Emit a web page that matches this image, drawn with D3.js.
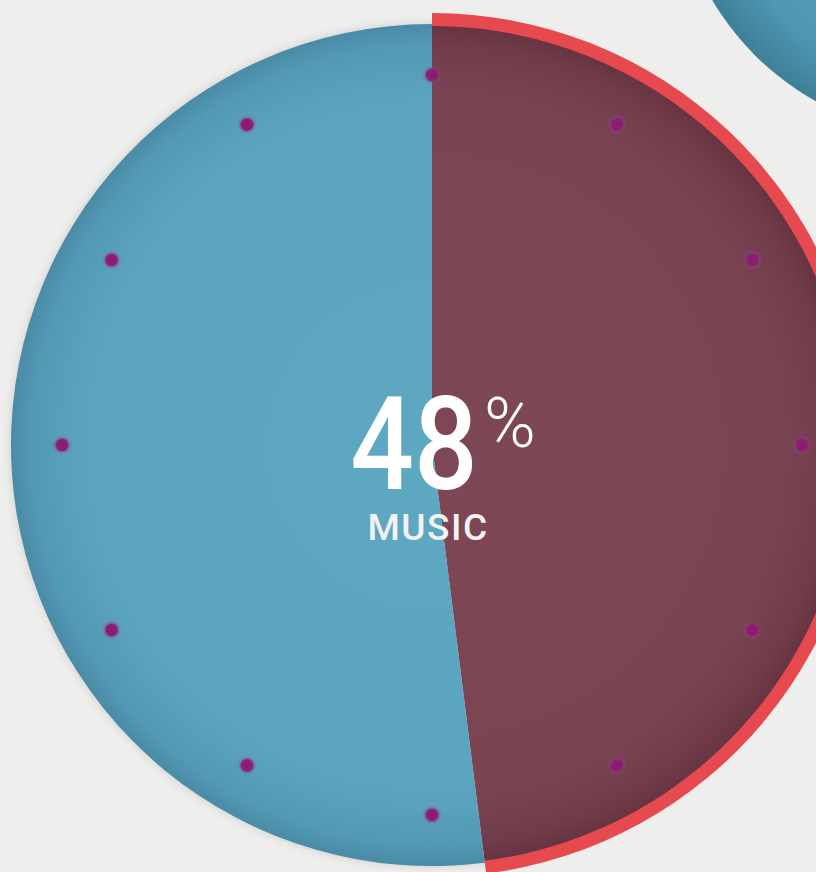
<!DOCTYPE html>
<html><head><meta charset="utf-8">
<script src="https://cdn.jsdelivr.net/npm/d3@7"></script>
<style>html,body{margin:0;padding:0;background:#efefee;overflow:hidden}</style>
</head><body>
<script>
const categories = ["MUSIC", "OTHER"];
const values = [48, 52];
const tickCount = 12;
const headline = "48";
const headlineUnit = "%";

const W = 816, H = 872;
const cx = 432, cy = 445, R = 421;
const svg = d3.select("body").append("svg").attr("width", W).attr("height", H);
const defs = svg.append("defs");

function radialUser(id, r, stops) {
  const g = defs.append("radialGradient").attr("id", id).attr("gradientUnits", "userSpaceOnUse")
    .attr("cx", 0).attr("cy", 0).attr("r", r);
  stops.forEach(s => g.append("stop").attr("offset", s[0]).attr("stop-color", s[1]));
}
function radial(id, stops) {
  const g = defs.append("radialGradient").attr("id", id).attr("cx", "50%").attr("cy", "50%").attr("r", "50%");
  stops.forEach(s => g.append("stop").attr("offset", s[0]).attr("stop-color", s[1]));
}
radialUser("gBlue", R, [["0%", "#5ea8c2"], ["82%", "#5ba4bf"], ["95%", "#5399b4"], ["100%", "#4a8ba6"]]);
radialUser("gRed", R, [["0%", "#7e4756"], ["82%", "#7b4453"], ["95%", "#713c4a"], ["100%", "#663341"]]);
radial("gCorner", [["0%", "#5aa6c0"], ["82%", "#4f97b2"], ["100%", "#3f7f98"]]);
radial("gDot", [["0%", "#8a1a72"], ["55%", "#8c1f72"], ["75%", "rgba(150,60,140,0.3)"], ["100%", "rgba(150,80,150,0)"]]);

const noise = defs.append("filter").attr("id", "noise").attr("x", 0).attr("y", 0).attr("width", "100%").attr("height", "100%");
noise.append("feTurbulence").attr("type", "fractalNoise").attr("baseFrequency", 0.9).attr("numOctaves", 2).attr("result", "t");
noise.append("feColorMatrix").attr("type", "matrix").attr("values", "0 0 0 0 0.6  0 0 0 0 0.6  0 0 0 0 0.6  0 0 0 0.06 0");

const shadow = defs.append("filter").attr("id", "sh").attr("x", "-10%").attr("y", "-10%").attr("width", "120%").attr("height", "120%");
shadow.append("feGaussianBlur").attr("stdDeviation", 4);

svg.append("rect").attr("width", W).attr("height", H).attr("fill", "#efefee");
svg.append("rect").attr("width", W).attr("height", H).attr("filter", "url(#noise)");

// corner circle (neighbouring chart)
svg.append("circle").attr("cx", 950).attr("cy", -140).attr("r", 276).attr("fill", "url(#gCorner)");

const g = svg.append("g").attr("transform", `translate(${cx},${cy})`);

const pie = d3.pie().sort(null).value(d => d);
const arcs = pie(values);
const arc = d3.arc().innerRadius(0).outerRadius(R);
const rim = d3.arc().innerRadius(R - 2).outerRadius(R + 11);

g.append("circle").attr("r", R + 1).attr("fill", "rgba(0,0,0,0.12)").attr("filter", "url(#sh)");
const fills = ["url(#gRed)", "url(#gBlue)"];
g.selectAll("path.slice").data(arcs).join("path").attr("class", "slice")
  .attr("d", arc).attr("fill", (d, i) => fills[i]);
g.append("path").datum(arcs[0]).attr("d", rim).attr("fill", "#e64a4f");

// tick dots
const angle = d3.scaleLinear().domain([0, tickCount]).range([0, 2 * Math.PI]);
const dotR = 370;
g.selectAll("circle.dot").data(d3.range(tickCount)).join("circle").attr("class", "dot")
  .attr("cx", i => dotR * Math.sin(angle(i)))
  .attr("cy", i => -dotR * Math.cos(angle(i)))
  .attr("r", 10).attr("fill", "url(#gDot)");

// labels
g.append("text").attr("transform", "translate(-18,44) scale(1,1.16)").attr("text-anchor", "middle")
  .attr("fill", "#ffffff").attr("font-family", "Roboto, 'DejaVu Sans', sans-serif")
  .attr("font-size", 112).attr("font-weight", 500).text(headline);
g.append("text").attr("x", 52).attr("y", 2).attr("fill", "#ffffff")
  .attr("font-family", "Roboto, sans-serif").attr("font-weight", 300).attr("font-size", 70).text(headlineUnit);
g.append("text").attr("x", -4).attr("y", 95).attr("text-anchor", "middle").attr("fill", "#f2f2f2")
  .attr("font-family", "Roboto, sans-serif").attr("font-size", 37).attr("font-weight", 500)
  .attr("letter-spacing", 1.5).text(categories[0]);
</script>
</body></html>
